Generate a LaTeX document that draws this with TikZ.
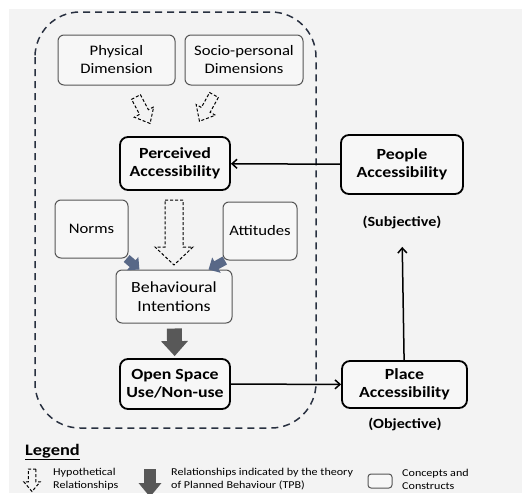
\documentclass[tikz,border=0pt]{standalone}
\usepackage{fontspec}
\setmainfont{Carlito}[FakeStretch=1.15]
\usetikzlibrary{arrows.meta}

\definecolor{paper}{RGB}{243,243,243}
\definecolor{boxfill}{RGB}{247,247,247}
\definecolor{boxline}{RGB}{85,85,85}
\definecolor{frameline}{RGB}{40,48,64}
\definecolor{tpbgray}{RGB}{88,88,88}
\definecolor{slate}{RGB}{88,104,135}

\begin{document}
\begin{tikzpicture}[x=1pt, y=-1pt,
    concept/.style={draw=boxline, line width=1pt, rounded corners=6pt, fill=boxfill,
      align=center, inner sep=0pt, font=\fontsize{14.5}{18}\selectfont},
    construct/.style={concept, draw=black, line width=1.8pt, rounded corners=8pt,
      font=\fontsize{15.5}{18.5}\selectfont\bfseries},
    note/.style={font=\fontsize{14}{17}\selectfont\bfseries},
    keytext/.style={align=left, anchor=west, inner sep=0pt, font=\fontsize{10.5}{13}\selectfont},
    link/.style={line width=1.5pt, -{Straight Barb[length=5pt,width=9pt]}},
    tpb/.style={tpbgray, line width=15pt, -{Triangle[length=15pt,width=26pt]}},
    tpbside/.style={slate, line width=9pt, -{Triangle[length=9pt,width=17pt]}},
    hyp/.style={line width=1pt, dash pattern=on 3pt off 2pt, fill=paper},
    pics/hyparrow/.style={code={
      \draw[hyp] (0,-5) -- (17,-5) -- (17,-11) -- (30,0) -- (17,11) -- (17,5) -- (0,5) -- cycle;}}]
  \useasboundingbox (0,0) rectangle (522,493);
  \clip (0,0) rectangle (522,493);
  \fill[paper] (9,9) rectangle (522,493);

  % dashed frame round the TPB part
  \draw[frameline, line width=1.5pt, dash pattern=on 7pt off 5pt, rounded corners=45pt]
    (35,12) rectangle (316,428);

  % concepts
  \node[concept, minimum width=117, minimum height=50] (phys) at (116.5,60) {Physical\\Dimension};
  \node[concept, minimum width=118, minimum height=50] (socio) at (244,60) {Socio-personal\\Dimensions};
  \node[construct, minimum width=110, minimum height=53] (perc) at (175,163.5) {Perceived\\Accessibility};
  \node[construct, minimum width=122, minimum height=59] (people) at (402,164.5) {People\\Accessibility};
  \node[concept, minimum width=73, minimum height=58] (norms) at (91.5,229) {Norms};
  \node[concept, minimum width=74, minimum height=58] (att) at (260,231) {Attitudes};
  \node[concept, minimum width=116, minimum height=53, font=\fontsize{15.5}{18.5}\selectfont] (behav) at (174,296.5) {Behavioural\\Intentions};
  \node[construct, minimum width=110, minimum height=50] (open) at (175,384) {Open Space\\Use/Non-use};
  \node[construct, minimum width=125, minimum height=47] (place) at (404.5,384.5) {Place\\Accessibility};
  \node[note] (subj) at (402,222) {(Subjective)};
  \node[note] (obj) at (405,424) {(Objective)};

  % hypothetical relationships
  \pic[rotate=-62] at (136,97) {hyparrow};
  \pic[rotate=-119] at (214,95) {hyparrow};
  \draw[hyp] (165,200) -- (183,200) -- (183,247) -- (193,247) -- (174,265)
    -- (155,247) -- (165,247) -- cycle;

  % theory of planned behaviour
  \draw[tpbside] (norms.-40) -- (behav.142);
  \draw[tpbside] (att.-140) -- (behav.38);
  \draw[tpb, shorten <=5pt, shorten >=2pt] (behav) -- (open);

  % accessibility links
  \draw[link] (people) -- (perc);
  \draw[link] (open) -- (place);
  \draw[link, shorten >=15pt] (place) -- (subj.south);

  % legend
  \node[anchor=west, inner sep=0pt, font=\fontsize{16}{19}\selectfont\bfseries] (legend) at (25,452) {\underline{Legend}};
  \pic[rotate=-90, scale=0.75] at (32,469) {hyparrow};
  \node[keytext] (hyptext) at (53,479) {Hypothetical\\Relationships};
  \draw[tpb, line width=12pt, -{Triangle[length=14pt,width=22pt]}] (150,469) -- (150,497);
  \node[keytext] (tpbtext) at (171,479) {Relationships indicated by the theory\\of Planned Behaviour (TPB)};
  \node[concept, rounded corners=3pt, minimum width=24, minimum height=14] (keybox) at (380,481) {};
  \node[keytext] (boxtext) at (402,479) {Concepts and\\Constructs};
\end{tikzpicture}
\end{document}
